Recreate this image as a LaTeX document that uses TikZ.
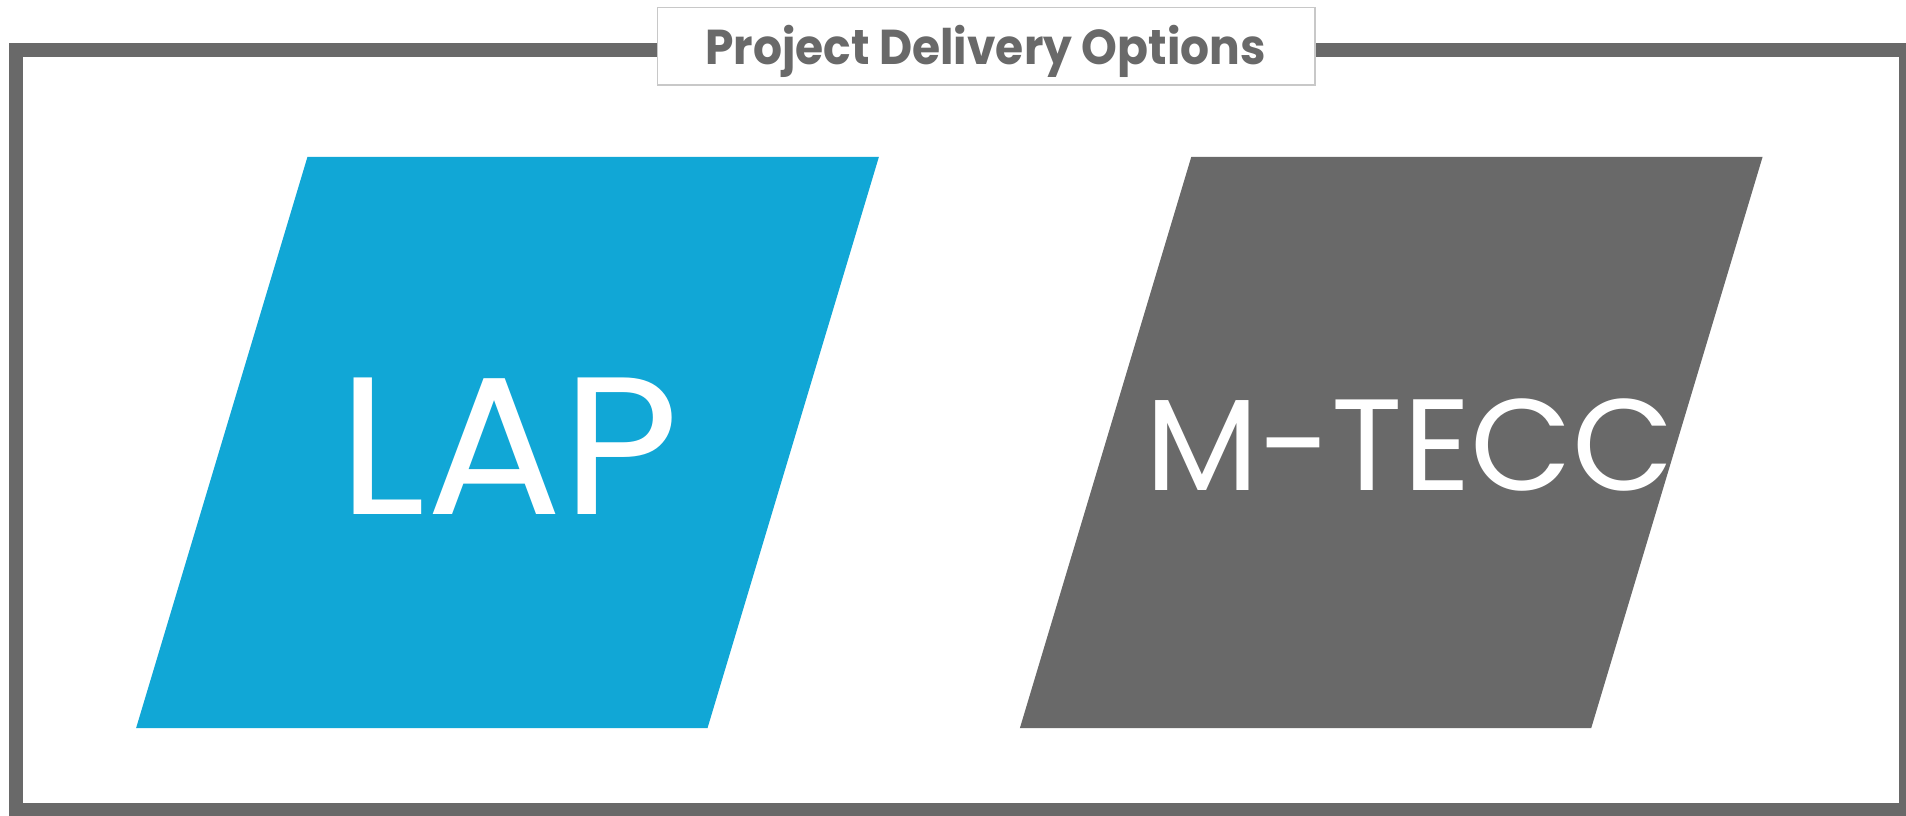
\documentclass[tikz,border=0pt]{standalone}
\usepackage{fontspec}
\setmainfont{Poppins}
\definecolor{lapblue}{RGB}{17,167,214}
\definecolor{darkgray}{RGB}{105,105,105}
\definecolor{boxedge}{RGB}{200,200,200}
\tikzset{
  frameline/.style={draw=darkgray, line width=14pt},
  titlebox/.style={fill=white, draw=boxedge, line width=1.5pt},
  titletext/.style={anchor=base, inner sep=0pt, text=darkgray, font=\fontsize{49}{49}\selectfont\bfseries},
  bigtext/.style={anchor=base, inner sep=0pt, text=white},
}
\begin{document}
\begin{tikzpicture}[x=1pt,y=-1pt]
\useasboundingbox (0,0) rectangle (1906,815);
\fill[white] (0,0) rectangle (1906,815);
% outer frame
\draw[frameline] (16,50) rectangle (1905.5,810);
% title box
\draw[titlebox] (657.3,7.3) rectangle (1315,85);
\node[titletext] (title) at (985.5,64.3) {\scalebox{0.93}[1]{Project Delivery Options}};
% parallelograms
\fill[lapblue] (307.5,156.8) -- (878.9,156.8) -- (707.5,728.1) -- (136.1,728.1) -- cycle;
\fill[darkgray] (1191.3,156.8) -- (1762.6,156.8) -- (1591.2,728.1) -- (1019.9,728.1) -- cycle;
\node[bigtext, font=\fontsize{196}{196}\selectfont] (lap) at (509,514) {\scalebox{1.03}[1]{LAP}};
\node[bigtext, font=\fontsize{130}{130}\selectfont] (mtecc) at (1410,490) {\scalebox{1.015}[1]{M-TECC}};
\end{tikzpicture}
\end{document}
